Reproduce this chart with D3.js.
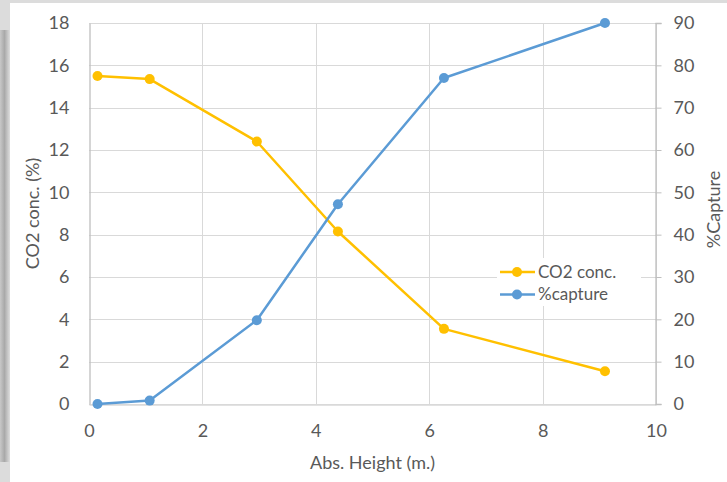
<!DOCTYPE html>
<html>
<head>
<meta charset="utf-8">
<script src="https://cdn.jsdelivr.net/npm/d3@7"></script>
<style>
  html, body { margin: 0; padding: 0; background: #ffffff; }
  svg { display: block; }
  text { font-family: Lato, "Open Sans", sans-serif; fill: #595959; }
</style>
</head>
<body>
<svg id="chart" width="727" height="482"></svg>
<script>
// Absorber height (m) at each sampling point
const heights = [0.15, 1.07, 2.96, 4.39, 6.26, 9.1];
// CO2 concentration in the gas (%)
const co2Conc = [15.5, 15.35, 12.4, 8.15, 3.55, 1.55];
// CO2 capture (%)
const capture = [0, 0.8, 19.8, 47.2, 77, 90];

const xTicks = [0, 2, 4, 6, 8, 10];
const yLeftTicks = [0, 2, 4, 6, 8, 10, 12, 14, 16, 18];
const yRightTicks = [0, 10, 20, 30, 40, 50, 60, 70, 80, 90];

const seriesNames = ["CO2 conc.", "%capture"];
const seriesColors = ["#FFC000", "#5B9BD5"];

const W = 727, H = 482;
const plot = { left: 89, right: 656, top: 23, bottom: 404 };

const svg = d3.select("#chart");

// page backdrop and card shadow
const defs = svg.append("defs");
const grad = defs.append("linearGradient").attr("id", "shade")
  .attr("x1", "0").attr("x2", "1").attr("y1", "0").attr("y2", "0");
grad.append("stop").attr("offset", "0").attr("stop-color", "#c8c8c8");
grad.append("stop").attr("offset", "0.45").attr("stop-color", "#a9a9a9");
grad.append("stop").attr("offset", "1").attr("stop-color", "#dedede");

svg.append("rect").attr("width", W).attr("height", H).attr("fill", "#dcdcdc");
svg.append("rect").attr("x", 0).attr("y", 30).attr("width", 10).attr("height", 432)
  .attr("fill", "url(#shade)");
svg.append("rect").attr("x", 10).attr("y", 3).attr("width", W - 10).attr("height", H - 3)
  .attr("fill", "#ffffff");

const x = d3.scaleLinear().domain([0, 10]).range([plot.left, plot.right]);
const yL = d3.scaleLinear().domain([0, 18]).range([plot.bottom, plot.top]);
const yR = d3.scaleLinear().domain([0, 90]).range([plot.bottom, plot.top]);

// gridlines
const grid = svg.append("g").attr("stroke", "#d9d9d9").attr("stroke-width", 1);
grid.selectAll("line.h").data(yLeftTicks).join("line")
  .attr("x1", plot.left).attr("x2", plot.right)
  .attr("y1", d => Math.round(yL(d)) + 0.5).attr("y2", d => Math.round(yL(d)) + 0.5);
grid.selectAll("line.v").data(xTicks.slice(1)).join("line")
  .attr("x1", d => Math.round(x(d)) + 0.5).attr("x2", d => Math.round(x(d)) + 0.5)
  .attr("y1", plot.top).attr("y2", plot.bottom);

// axes
const axisColor = "#bfbfbf";
const xAxis = svg.append("g").attr("transform", `translate(0,${Math.round(plot.bottom) + 0.5})`)
  .call(d3.axisBottom(x).tickValues(xTicks).tickSize(0).tickPadding(20));
const leftAxis = svg.append("g").attr("transform", `translate(${plot.left + 0.5},0)`)
  .call(d3.axisLeft(yL).tickValues(yLeftTicks).tickSize(0).tickPadding(20));
const rightAxis = svg.append("g").attr("transform", `translate(${Math.round(plot.right) - 0.5},0)`)
  .call(d3.axisRight(yR).tickValues(yRightTicks).tickSize(6).tickPadding(12));

[xAxis, leftAxis, rightAxis].forEach(g => {
  g.select(".domain").attr("stroke", axisColor).attr("stroke-width", 1.3);
  g.selectAll(".tick line").attr("stroke", axisColor);
  g.selectAll(".tick text").attr("fill", "#595959")
    .style("font-family", "Lato, 'Open Sans', sans-serif").style("font-size", "18px");
});
xAxis.select(".domain").attr("stroke", "#d9d9d9");

// axis titles
svg.append("text").attr("x", (plot.left + plot.right) / 2).attr("y", 469)
  .attr("text-anchor", "middle").style("font-size", "18px").text("Abs. Height (m.)");
svg.append("text").attr("transform", `translate(39,${(plot.top + plot.bottom) / 2}) rotate(-90)`)
  .attr("text-anchor", "middle").style("font-size", "18px").text("CO2 conc. (%)");
svg.append("text").attr("transform", `translate(720,${(plot.top + plot.bottom) / 2 - 4}) rotate(-90)`)
  .attr("text-anchor", "middle").style("font-size", "18px").text("%Capture");

// legend (white panel covers the gridlines underneath)
const legend = svg.append("g");
legend.append("rect").attr("x", 497).attr("y", 258).attr("width", 144).attr("height", 48)
  .attr("fill", "#ffffff");

// series
const series = [
  { name: seriesNames[0], color: seriesColors[0], y: yL, values: co2Conc },
  { name: seriesNames[1], color: seriesColors[1], y: yR, values: capture }
];
series.forEach(s => {
  const pts = heights.map((h, i) => [h, s.values[i]]);
  const line = d3.line().x(d => x(d[0])).y(d => s.y(d[1]));
  svg.append("path").datum(pts).attr("d", line)
    .attr("fill", "none").attr("stroke", s.color).attr("stroke-width", 2.5)
    .attr("stroke-linejoin", "round");
  svg.append("g").selectAll("circle").data(pts).join("circle")
    .attr("cx", d => x(d[0])).attr("cy", d => s.y(d[1])).attr("r", 5)
    .attr("fill", s.color);
});

series.forEach((s, i) => {
  const ly = 272 + i * 22.5;
  legend.append("line").attr("x1", 500).attr("x2", 535).attr("y1", ly).attr("y2", ly)
    .attr("stroke", s.color).attr("stroke-width", 2.5);
  legend.append("circle").attr("cx", 517).attr("cy", ly).attr("r", 5).attr("fill", s.color);
  legend.append("text").attr("x", 538).attr("y", ly).attr("dy", "0.35em")
    .style("font-size", "17px").text(s.name);
});
</script>
</body>
</html>
